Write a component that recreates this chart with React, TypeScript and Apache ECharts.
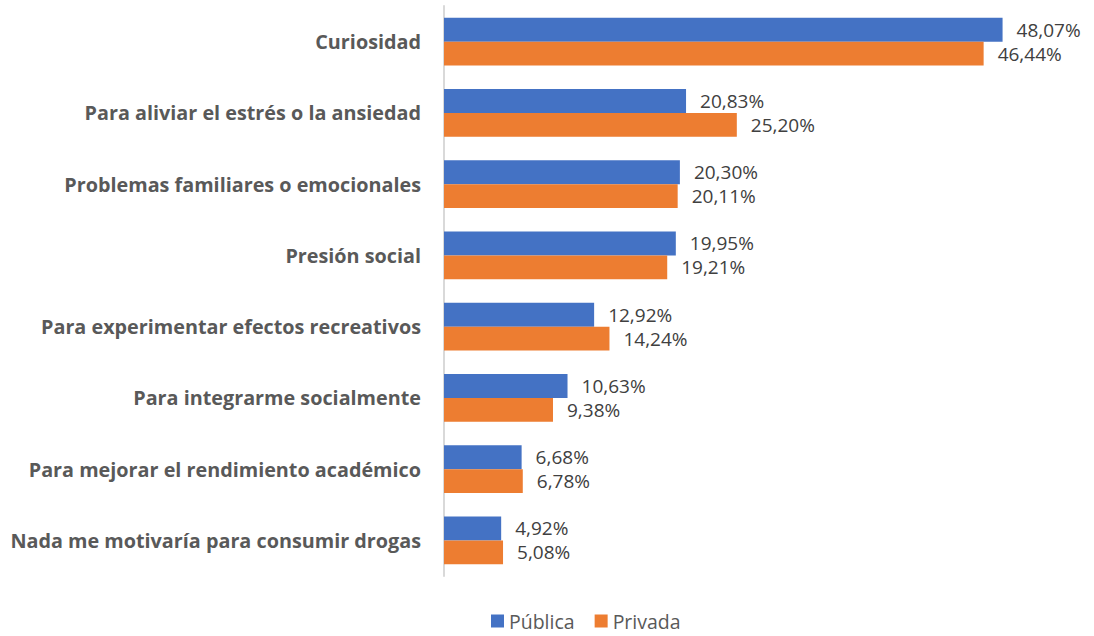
import React, { useEffect, useRef } from "react";
import * as echarts from "echarts";

const categories = [
  "Curiosidad",
  "Para aliviar el estrés o la ansiedad",
  "Problemas familiares o emocionales",
  "Presión social",
  "Para experimentar efectos recreativos",
  "Para integrarme socialmente",
  "Para mejorar el rendimiento académico",
  "Nada me motivaría para consumir drogas",
];
const publica = [48.07, 20.83, 20.3, 19.95, 12.92, 10.63, 6.68, 4.92];
const privada = [46.44, 25.2, 20.11, 19.21, 14.24, 9.38, 6.78, 5.08];

const fmt = (v: number) => v.toFixed(2).replace(".", ",") + "%";

export default function App() {
  const ref = useRef<HTMLDivElement>(null);
  useEffect(() => {
    const chart = echarts.init(ref.current!, null, { renderer: "svg" });
    const font = "Open Sans";
    const label = {
      show: true,
      position: "right",
      distance: 14,
      color: "#404040",
      fontSize: 19,
      lineHeight: 20,
      fontFamily: font,
      formatter: (p: any) => fmt(p.value),
    };
    chart.setOption({
      animation: false,
      grid: { left: 444, top: 6, bottom: 60, width: 581 },
      legend: {
        data: ["Pública", "Privada"],
        left: 486,
        top: 606,
        itemWidth: 13,
        itemHeight: 13,
        itemGap: 20,
        icon: "rect",
        textStyle: { color: "#595959", fontSize: 19.5, fontFamily: font },
      },
      xAxis: {
        type: "value",
        min: 0,
        max: 50,
        show: false,
      },
      yAxis: {
        type: "category",
        inverse: true,
        data: categories,
        axisLine: { lineStyle: { color: "#d9d9d9", width: 2 } },
        axisTick: { show: false },
        axisLabel: {
          color: "#595959",
          fontWeight: "bold",
          fontSize: 19.8,
          fontFamily: font,
          margin: 23,
        },
      },
      series: [
        {
          name: "Pública",
          type: "bar",
          data: publica,
          barGap: "0%",
          barCategoryGap: "33%",
          itemStyle: { color: "#4472C4" },
          label,
        },
        {
          name: "Privada",
          type: "bar",
          data: privada,
          barGap: "0%",
          barCategoryGap: "33%",
          itemStyle: { color: "#ED7D31" },
          label,
        },
      ],
    });
    return () => chart.dispose();
  }, []);
  return (
    <div
      ref={ref}
      style={{ position: "absolute", left: 0, top: 0, width: 1094, height: 636 }}
    />
  );
}
